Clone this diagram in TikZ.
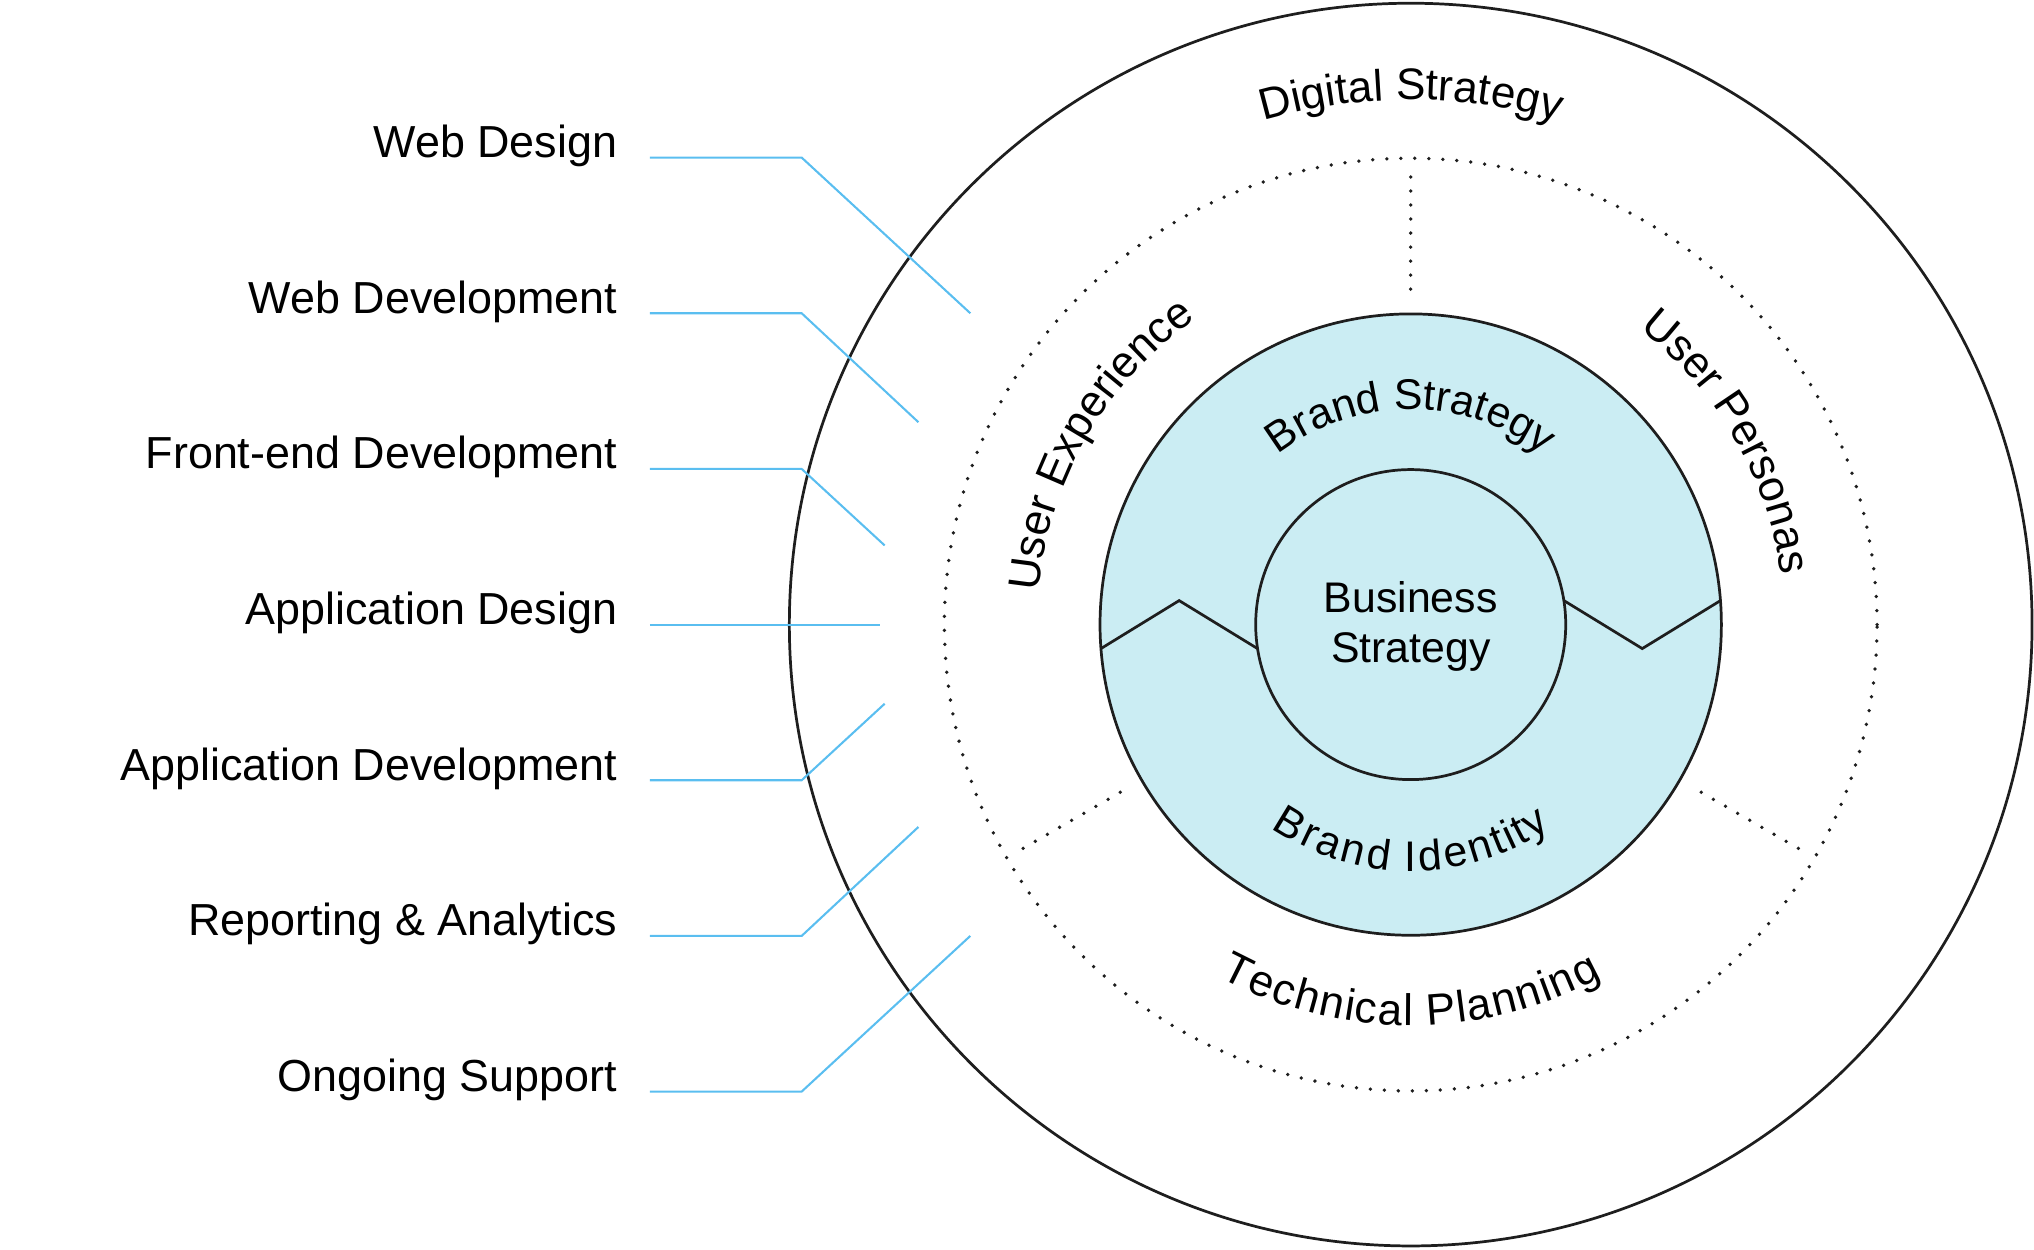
\documentclass[tikz,border=0pt]{standalone}
\usepackage{fontspec}
\setmainfont{Liberation Sans}
\usetikzlibrary{decorations.text,calc}
\definecolor{ringblue}{HTML}{CBEDF3}
\definecolor{lineblue}{HTML}{5ABEF0}
\definecolor{ink}{HTML}{1E1E1E}
\begin{document}
\begin{tikzpicture}[x=1pt,y=1pt,
  ring/.style={draw=ink,line width=2.1pt},
  dotline/.style={draw=ink,line width=2.9pt,line cap=round,dash pattern=on 0pt off 10.8pt},
  conn/.style={draw=lineblue,line width=1.6pt},
  lab/.style={anchor=base east,inner sep=0pt,font=\fontsize{34.6}{40}\selectfont,text=black},
  ctext/.style={anchor=base,inner sep=0pt,font=\fontsize{33}{39}\selectfont,text=black}]
\useasboundingbox (0,0) rectangle (1568,963);
\coordinate (C) at (1087.5,481.5);

% filled ring
\fill[ringblue] (C) circle[radius=239.5];
% circles
\draw[ring] (C) circle[radius=479];
\draw[dotline] (C) circle[radius=359.5];
\draw[ring] (C) circle[radius=239.5];
\draw[ring] (C) circle[radius=119.5];

% zigzag dividers
\draw[ring,line join=miter] ($(C)+(-238.8,-18.5)$) -- ($(C)+(-178.5,18.5)$) -- ($(C)+(-118.1,-18.5)$);
\draw[ring,line join=miter] ($(C)+(118.1,18.5)$) -- ($(C)+(178.5,-18.5)$) -- ($(C)+(238.8,18.5)$);

% radial dotted dividers
\foreach \a in {90,210,330}{
  \draw[dotline] ($(C)+(\a:345)$) -- ($(C)+(\a:254)$);
}

% curved texts
\path[decorate,decoration={text along path,text align=center,
  text={|\fontsize{34}{40}\selectfont|Digital Strategy}}]
  ($(C)+(150:404.5)$) arc[start angle=150,end angle=30,radius=404.5];
\path[decorate,decoration={text along path,text align=center,
  text={|\fontsize{34}{40}\selectfont|User Experience}}]
  ($(C)+(210:288)$) arc[start angle=210,end angle=90,radius=288];
\path[decorate,decoration={text along path,text align=center,
  text={|\fontsize{34}{40}\selectfont|User Personas}}]
  ($(C)+(90:288)$) arc[start angle=90,end angle=-30,radius=288];
\path[decorate,decoration={text along path,text align=center,raise=-21pt,
  text={|\fontsize{34}{40}\selectfont|Technical Planning}}]
  ($(C)+(210:288)$) arc[start angle=210,end angle=330,radius=288];
\path[decorate,decoration={text along path,text align=center,
  text={|\fontsize{33}{39}\selectfont|Brand Strategy}}]
  ($(C)+(170:166)$) arc[start angle=170,end angle=10,radius=166];
\path[decorate,decoration={text along path,text align=center,raise=-23pt,
  text={|\fontsize{33}{39}\selectfont|Brand Identity}}]
  ($(C)+(190:167)$) arc[start angle=190,end angle=350,radius=167];

% centre
\node[ctext] (bs1) at (1087.5,490.7) {Business};
\node[ctext] (bs2) at (1087.5,452) {Strategy};

% left labels and connectors
\node[lab] (l1) at (476,841.5) {Web Design};
\node[lab] (l2) at (476,721.5) {Web Development};
\node[lab] (l3) at (476,601.5) {Front-end Development};
\node[lab] (l4) at (476,481.5) {Application Design};
\node[lab] (l5) at (476,361.5) {Application Development};
\node[lab] (l6) at (476,241.5) {Reporting \& Analytics};
\node[lab] (l7) at (476,121.5) {Ongoing Support};

\foreach \i/\y/\dx/\dy in {1/841.5/130/-120, 2/721.5/90/-84, 3/601.5/64/-59,
                           5/361.5/64/59, 6/241.5/90/84, 7/121.5/130/120}{
  \coordinate (s\i) at (501,\y);
  \coordinate (k\i) at (618,\y);
  \coordinate (e\i) at ($(k\i)+(\dx,\dy)$);
  \draw[conn,line join=miter] (s\i) -- (k\i) -- (e\i);
}
\coordinate (s4) at (501,481.5);
\coordinate (e4) at (678,481.5);
\draw[conn] (s4) -- (e4);
\end{tikzpicture}
\end{document}
